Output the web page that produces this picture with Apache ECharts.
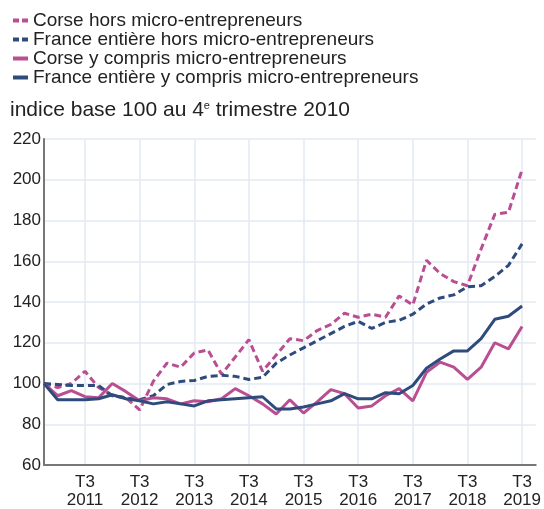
<!DOCTYPE html>
<html>
<head>
<meta charset="utf-8">
<script src="https://cdn.jsdelivr.net/npm/echarts@6/dist/echarts.min.js"></script>
<style>
  html, body { margin: 0; padding: 0; background: #fff; }
  #chart { width: 544px; height: 509px; }
</style>
</head>
<body>
<div id="chart"></div>
<script>
// trimestres de T4 2010 à T4 2019
const quarters = ['T4 2010']
for (let y = 2011; y <= 2019; y++) {
  for (let q = 1; q <= 4; q++) quarters.push('T' + q + ' ' + y)
}

const corseHors = [100, 98, 100, 106, 98, 94, 93, 87, 101, 110, 108, 115, 116.5, 104.5, 113, 121.5, 106, 114, 122, 121, 126, 129, 134.5, 132.5, 134, 132.5, 143, 138.5, 160.5, 154, 150, 148, 166, 183, 184, 205]
const franceHors = [100, 99.5, 99, 99, 99, 94, 93, 92, 94, 99.5, 101, 101.5, 103.5, 104, 103.5, 102, 103, 110, 114, 117.5, 121, 124.5, 128, 130.5, 127, 130, 131, 134, 139, 142, 143.5, 147.5, 148, 152.5, 158, 168.5]
const corseY = [100, 94, 96.5, 93.5, 93, 100, 96, 91.5, 93, 92.5, 90, 91.5, 91, 92.5, 97.5, 94, 90, 85, 92, 85.5, 91, 97, 95, 88, 89, 94, 97.5, 91.5, 105.5, 110.5, 108, 102, 108, 120, 117, 128]
const franceY = [100, 92, 92, 92, 92.5, 94.5, 92.5, 91.5, 90, 91, 90, 89, 91.5, 92, 92.5, 93, 93.5, 87.5, 87.5, 88.5, 90, 91.5, 95, 92.5, 92.5, 95.5, 95, 99, 107.5, 112, 116, 116, 122, 131.5, 133, 138]

const pink = '#b94e92'
const blue = '#2f4b7c'
const dashIcon = 'path://M0,0H6V4H0Z M9,0H15V4H9Z'

const isT3 = (i, v) => v.indexOf('T3') === 0

const chart = echarts.init(document.getElementById('chart'))

const mkSeries = (name, data, color, dashed) => ({
  name: name,
  type: 'line',
  data: data,
  symbol: 'none',
  itemStyle: { color: color },
  lineStyle: { color: color, width: 3, type: dashed ? [7, 4] : 'solid' },
  animation: false
})

const option = {
  textStyle: { fontFamily: 'Liberation Sans, Arial, sans-serif' },
  title: {
    text: 'indice base 100 au 4{sup|e} trimestre 2010',
    left: 5,
    top: 95,
    textStyle: {
      fontSize: 21,
      fontWeight: 'normal',
      color: '#222',
      rich: {
        sup: { fontSize: 11, verticalAlign: 'top', padding: [0, 0, 8, 0], color: '#222' }
      }
    }
  },
  legend: {
    orient: 'vertical',
    left: 8,
    top: 6,
    itemGap: 0,
    itemWidth: 15,
    itemHeight: 4,
    textStyle: { fontSize: 19, color: '#222' },
    data: [
      { name: 'Corse hors micro-entrepreneurs', icon: dashIcon },
      { name: 'France entière hors micro-entrepreneurs', icon: dashIcon },
      { name: 'Corse y compris micro-entrepreneurs', icon: 'rect' },
      { name: 'France entière y compris micro-entrepreneurs', icon: 'rect' }
    ]
  },
  grid: { left: 44, right: 7, top: 139, bottom: 43 },
  xAxis: {
    type: 'category',
    data: quarters,
    boundaryGap: false,
    axisTick: { show: false },
    axisLine: { lineStyle: { color: '#777', width: 2 } },
    axisLabel: {
      interval: isT3,
      color: '#222',
      fontSize: 17,
      lineHeight: 18,
      margin: 8,
      formatter: v => v.replace(' ', '\n')
    },
    splitLine: {
      show: true,
      interval: isT3,
      lineStyle: { color: '#e3eaf3', width: 1.5 }
    }
  },
  yAxis: {
    type: 'value',
    min: 60,
    max: 220,
    interval: 20,
    axisLine: { show: true, lineStyle: { color: '#777', width: 2 } },
    axisTick: { show: false },
    axisLabel: { color: '#222', fontSize: 17, margin: 3 },
    splitLine: { lineStyle: { color: '#e3eaf3', width: 1.5 } }
  },
  series: [
    mkSeries('Corse hors micro-entrepreneurs', corseHors, pink, true),
    mkSeries('France entière hors micro-entrepreneurs', franceHors, blue, true),
    mkSeries('Corse y compris micro-entrepreneurs', corseY, pink, false),
    mkSeries('France entière y compris micro-entrepreneurs', franceY, blue, false)
  ]
}

chart.setOption(option)
</script>
</body>
</html>
